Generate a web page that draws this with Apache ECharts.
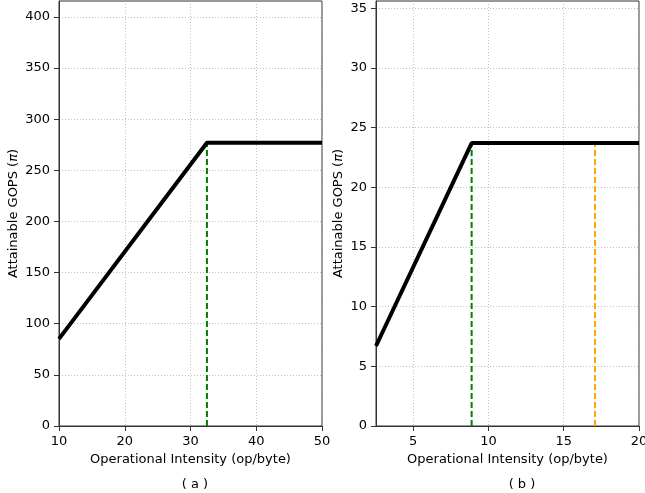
<!DOCTYPE html>
<html><head><meta charset="utf-8">
<script src="https://cdn.jsdelivr.net/npm/echarts@6/dist/echarts.min.js"></script>
<style>html,body{margin:0;padding:0;background:#fff}#c{width:645px;height:493px}</style>
</head><body><div id="c"></div>
<script>
// Panel (a)
const xA = [10, 32.5, 50];
const yA = [85.2, 277, 277];
const ridgeA = 32.5;
const peakA = 277;
const xTicksA = [10, 20, 30, 40, 50];
const yTicksA = [0, 50, 100, 150, 200, 250, 300, 350, 400];
// Panel (b)
const xB = [2.525, 8.88, 20];
const yB = [6.7, 23.7, 23.7];
const ridgeB = 8.88;
const orangeB = 17.08;
const xTicksB = [5, 10, 15, 20];
const yTicksB = [0, 5, 10, 15, 20, 25, 30, 35];

const FONT = 'DejaVu Sans';
const FS = 13;
const axisCol = '#333';
const gridLine = {show: true, lineStyle: {color: '#b0b0b0', type: [1, 2], width: 0.8}};

function xAxis(gi, min, max, ticks) {
  return {
    type: 'value', gridIndex: gi, min: min, max: max,
    name: 'Operational Intensity (op/byte)', nameLocation: 'middle', nameGap: 27,
    nameTextStyle: {fontFamily: FONT, fontSize: FS, color: '#000'},
    axisLine: {show: true, onZero: false, lineStyle: {color: axisCol, width: 1}},
    axisTick: {show: true, length: 5, inside: false, customValues: ticks, lineStyle: {color: axisCol}},
    axisLabel: {customValues: ticks, margin: 9, fontFamily: FONT, fontSize: FS, color: '#000'},
    splitLine: gridLine
  };
}
function yAxis(gi, max, interval, ticks, gap) {
  return {
    type: 'value', gridIndex: gi, min: 0, max: max, interval: interval,
    name: '{n|Attainable GOPS (}{p|π}{n|)}', nameLocation: 'middle', nameGap: gap, nameRotate: 90,
    nameTextStyle: {rich: {n: {fontFamily: FONT, fontSize: FS, color: '#000'}, p: {fontFamily: FONT, fontSize: FS, fontStyle: 'italic', color: '#000'}}},
    axisLine: {show: true, lineStyle: {color: axisCol, width: 1}},
    axisTick: {show: true, length: 5, customValues: ticks, lineStyle: {color: axisCol}},
    axisLabel: {customValues: ticks, margin: 9, fontFamily: FONT, fontSize: FS, color: '#000'},
    splitLine: gridLine
  };
}
function pts(xs, ys) { return xs.map((x, i) => [x, ys[i]]); }

const chart = echarts.init(document.getElementById('c'), null, {renderer: 'canvas'});
chart.setOption({
  animation: false,
  backgroundColor: '#fff',
  grid: [
    {left: 59, top: 1, width: 263, height: 425, show: true, borderColor: axisCol, borderWidth: 1, outerBoundsMode: 'none', containLabel: false},
    {left: 376, top: 1, width: 263, height: 425, show: true, borderColor: axisCol, borderWidth: 1, outerBoundsMode: 'none', containLabel: false}
  ],
  title: [
    {text: '( a )', left: 190, top: 473, textAlign: 'center', textStyle: {fontFamily: FONT, fontSize: FS, fontWeight: 'normal', color: '#000'}},
    {text: '( b )', left: 517, top: 473, textAlign: 'center', textStyle: {fontFamily: FONT, fontSize: FS, fontWeight: 'normal', color: '#000'}}
  ],
  xAxis: [xAxis(0, xA[0], xA[xA.length - 1], xTicksA), xAxis(1, xB[0], xB[xB.length - 1], xTicksB)],
  yAxis: [yAxis(0, 415.6, 50, yTicksA, 39), yAxis(1, 35.6, 5, yTicksB, 31)],
  series: [
    {type: 'line', xAxisIndex: 0, yAxisIndex: 0, data: [[ridgeA, 0], [ridgeA, peakA]], symbol: 'none', z: 3,
     lineStyle: {color: '#008000', width: 2, type: [6, 3]}},
    {type: 'line', xAxisIndex: 0, yAxisIndex: 0, data: pts(xA, yA), symbol: 'none', z: 4,
     lineStyle: {color: '#000', width: 4}},
    {type: 'line', xAxisIndex: 1, yAxisIndex: 1, data: [[ridgeB, 0], [ridgeB, yB[1]]], symbol: 'none', z: 3,
     lineStyle: {color: '#008000', width: 2, type: [6, 3]}},
    {type: 'line', xAxisIndex: 1, yAxisIndex: 1, data: [[orangeB, 0], [orangeB, yB[2]]], symbol: 'none', z: 3,
     lineStyle: {color: '#FFA500', width: 2, type: [6, 3]}},
    {type: 'line', xAxisIndex: 1, yAxisIndex: 1, data: pts(xB, yB), symbol: 'none', z: 4,
     lineStyle: {color: '#000', width: 4}}
  ]
});
</script></body></html>
